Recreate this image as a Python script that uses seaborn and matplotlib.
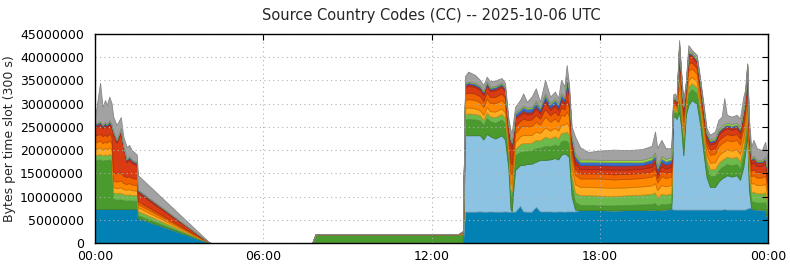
import numpy as np
import pandas as pd
import seaborn as sns
import matplotlib
matplotlib.use("Agg")
import matplotlib.pyplot as plt
from matplotlib.colors import to_rgb

# time of each 300 s slot sample (hours since 00:00 UTC)
hours = [0.00, 0.04, 0.18, 0.27, 0.36, 0.42, 0.51, 0.59, 0.65, 0.77, 0.92, 1.01, 1.13, 1.22, 1.31, 1.43, 1.49, 1.53, 4.10,
         7.75, 7.87, 12.95, 13.12,
         13.20, 13.31, 13.55, 13.73, 13.85, 13.97, 14.09, 14.27, 14.50, 14.62, 14.74, 14.82, 14.86, 14.92, 14.98,
         15.16, 15.27, 15.40, 15.57, 15.72, 15.87, 16.05, 16.23, 16.40, 16.52, 16.62, 16.74, 16.82, 16.90, 17.00, 17.12, 17.30,
         17.59, 18.00, 18.50, 19.00, 19.50, 19.85, 19.97, 20.05, 20.20, 20.35, 20.55,
         20.62, 20.68, 20.74, 20.83, 20.90, 20.98, 21.07, 21.16, 21.28, 21.46, 21.58, 21.69, 21.81, 21.93, 22.11, 22.23,
         22.35, 22.44, 22.53, 22.71, 22.88, 23.00, 23.12, 23.18, 23.26, 23.32, 23.40, 23.48, 23.60, 23.78, 23.90, 24.00]

# bytes per slot, in millions, one list per country code layer (bottom to top)
cc_1 = [7.3, 7.3, 7.3, 7.3, 7.3, 7.3, 7.3, 7.3, 7.3, 7.3, 7.3, 7.3, 7.3, 7.3, 7.3, 7.3, 7.3, 5.4, 0.0,
        0.0, 0.0, 0.0, 0.0,
        6.75, 6.75, 6.75, 6.8, 6.75, 6.75, 6.8, 6.75, 6.75, 6.8, 6.75, 6.75, 6.75, 6.75, 6.75,
        8.0, 6.8, 6.75, 6.75, 7.8, 6.8, 6.8, 6.8, 6.75, 6.8, 6.8, 6.75, 6.8, 6.8, 6.8, 6.8, 7.1,
        7.1, 7.1, 7.0, 7.1, 7.1, 7.2, 7.2, 7.1, 7.2, 7.2, 7.5,
        7.2, 7.2, 7.2, 7.2, 7.2, 7.2, 7.2, 7.2, 7.2, 7.2, 7.2, 7.2, 7.2, 7.2, 7.2, 7.2,
        7.2, 7.3, 7.2, 7.2, 7.2, 7.2, 7.2, 7.2, 7.4, 7.6, 7.5, 7.3, 7.2, 7.2, 7.2, 4.3]
cc_2 = [0.0, 0.0, 0.0, 0.0, 0.0, 0.0, 0.0, 0.0, 0.0, 0.0, 0.0, 0.0, 0.0, 0.0, 0.0, 0.0, 0.0, 0.0, 0.0,
        0.0, 0.0, 0.0, 0.0,
        16.45, 16.45, 16.45, 16.4, 15.55, 16.75, 16.2, 15.75, 16.45, 15.5, 9.5, 0.6, 0.1, 5.0, 8.95,
        8.8, 10.0, 10.25, 10.35, 9.7, 11.1, 11.1, 11.2, 11.55, 11.2, 12.2, 12.55, 12.2, 11.7, 3.2, 0.4, 0.0,
        0.0, 0.0, 0.0, 0.0, 0.0, 0.0, 0.0, 0.0, 0.0, 0.0, 0.0,
        19.9, 20.1, 19.5, 21.0, 18.0, 11.7, 20.4, 22.5, 23.6, 22.8, 18.3, 12.7, 7.0, 4.9, 4.9, 6.0,
        6.7, 6.9, 7.4, 7.1, 7.4, 6.4, 9.2, 12.0, 16.0, 4.0, 0.0, 0.0, 0.0, 0.0, 0.0, 0.0]
cc_3 = [10.6, 10.5, 10.7, 10.4, 10.6, 10.5, 10.7, 10.4, 2.2, 2.0, 2.1, 1.9, 1.8, 1.9, 1.8, 1.8, 1.8, 0.6, 0.0,
        0.0, 1.9, 1.9, 1.9,
        3.4, 3.5, 3.4, 3.2, 3.1, 3.4, 3.2, 3.4, 3.4, 3.4, 2.8, 3.0, 3.0, 3.0, 3.2,
        2.8, 2.9, 2.8, 2.8, 2.9, 2.6, 3.0, 2.8, 2.9, 2.8, 2.9, 2.8, 3.0, 2.9, 2.6, 1.6, 1.1,
        1.1, 1.0, 1.1, 1.1, 1.2, 1.2, 1.4, 0.9, 1.2, 1.1, 1.1,
        0.9, 0.9, 0.9, 2.5, 2.2, 2.5, 1.5, 2.5, 2.3, 2.2, 2.2, 2.2, 2.2, 2.3, 2.3, 2.4,
        2.4, 2.4, 2.4, 2.4, 2.4, 2.4, 2.6, 2.6, 2.8, 2.6, 1.5, 1.6, 1.5, 1.5, 1.6, 1.5]
cc_4 = [1.1, 1.1, 1.2, 1.1, 1.2, 1.1, 1.2, 1.1, 1.4, 1.4, 1.4, 1.3, 1.3, 1.3, 1.2, 1.2, 1.2, 0.9, 0.0,
        0.0, 0.0, 0.0, 0.0,
        1.2, 1.2, 1.2, 1.1, 1.1, 1.2, 1.1, 1.2, 1.2, 1.2, 1.0, 1.3, 1.3, 1.3, 1.4,
        1.7, 1.8, 1.7, 1.7, 1.8, 1.6, 2.0, 1.7, 1.8, 1.7, 1.8, 1.7, 2.0, 1.8, 1.9, 2.0, 2.1,
        2.1, 2.1, 2.0, 2.1, 2.1, 2.2, 2.3, 1.8, 2.2, 2.1, 2.1,
        0.6, 0.6, 0.6, 1.5, 1.4, 1.4, 0.9, 1.4, 1.3, 1.3, 1.3, 1.4, 1.4, 1.5, 1.5, 1.6,
        1.6, 1.6, 1.6, 1.6, 1.6, 1.6, 1.7, 1.7, 1.8, 1.9, 2.0, 2.1, 2.0, 2.0, 2.1, 2.0]
cc_5 = [1.4, 1.4, 1.4, 1.3, 1.4, 1.3, 1.4, 1.3, 1.2, 1.1, 1.2, 1.1, 1.1, 1.1, 1.1, 1.0, 1.0, 0.8, 0.0,
        0.0, 0.0, 0.0, 0.0,
        1.2, 1.3, 1.2, 1.1, 1.1, 1.2, 1.1, 1.2, 1.2, 1.2, 1.0, 1.4, 1.4, 1.4, 1.4,
        1.7, 1.8, 1.7, 1.7, 1.8, 1.6, 2.0, 1.7, 1.8, 1.7, 1.8, 1.7, 2.0, 1.9, 1.9, 1.9, 1.8,
        1.8, 1.8, 1.8, 1.7, 1.8, 1.8, 2.0, 1.6, 1.9, 1.8, 1.8,
        0.5, 0.5, 0.5, 1.5, 1.4, 1.5, 0.9, 1.5, 1.4, 1.3, 1.3, 1.3, 1.3, 1.4, 1.5, 1.6,
        1.6, 1.6, 1.6, 1.6, 1.6, 1.6, 1.7, 1.7, 1.8, 1.9, 1.8, 1.9, 1.8, 1.8, 1.9, 1.8]
cc_6 = [1.4, 1.4, 1.5, 1.4, 1.4, 1.4, 1.5, 1.4, 1.4, 1.4, 1.5, 1.3, 1.2, 1.3, 1.2, 1.2, 1.2, 0.7, 0.0,
        0.0, 0.0, 0.0, 0.4,
        1.8, 1.8, 1.8, 1.7, 1.7, 1.8, 1.7, 1.8, 1.8, 1.8, 1.5, 2.2, 2.2, 2.0, 1.9,
        1.9, 2.0, 1.9, 1.9, 2.1, 1.8, 2.3, 1.9, 2.0, 1.9, 2.1, 1.9, 2.4, 2.2, 2.1, 2.0, 1.8,
        1.8, 1.9, 1.8, 1.8, 1.8, 1.9, 2.0, 1.6, 1.9, 1.8, 1.8,
        0.6, 0.6, 0.6, 2.5, 2.0, 1.8, 1.2, 2.0, 1.8, 1.7, 1.6, 1.6, 1.6, 1.7, 1.8, 2.0,
        2.0, 2.0, 2.0, 2.0, 2.0, 2.0, 2.1, 2.1, 2.3, 2.1, 1.6, 1.7, 1.6, 1.6, 1.7, 1.6]
cc_7 = [1.5, 1.5, 1.4, 1.5, 1.5, 1.4, 1.5, 1.4, 1.8, 1.8, 1.8, 1.6, 1.5, 1.5, 1.4, 1.4, 1.4, 0.6, 0.0,
        0.0, 0.0, 0.0, 0.0,
        1.4, 1.4, 1.4, 1.3, 1.3, 1.4, 1.3, 1.4, 1.4, 1.4, 1.2, 2.2, 2.2, 1.8, 1.6,
        1.4, 1.5, 1.4, 1.4, 1.5, 1.3, 1.7, 1.4, 1.5, 1.4, 1.6, 1.4, 2.4, 2.0, 1.6, 1.3, 1.1,
        1.1, 1.1, 1.1, 1.1, 1.1, 1.1, 1.3, 1.0, 1.2, 1.1, 1.1,
        0.4, 0.4, 0.4, 2.5, 2.0, 1.3, 0.8, 1.5, 1.3, 1.2, 1.1, 1.1, 1.1, 1.1, 1.2, 1.3,
        1.3, 1.3, 1.3, 1.3, 1.3, 1.3, 1.4, 1.4, 2.0, 1.6, 1.2, 1.3, 1.2, 1.2, 1.3, 1.2]
cc_8 = [1.8, 1.8, 1.9, 1.7, 1.9, 1.8, 2.0, 1.9, 8.0, 6.6, 8.6, 5.8, 3.2, 3.6, 3.3, 3.0, 3.0, 1.8, 0.0,
        0.0, 0.0, 0.0, 0.2,
        1.4, 1.5, 1.4, 1.4, 1.3, 1.4, 1.3, 1.4, 1.4, 1.4, 1.3, 3.5, 3.4, 2.0, 1.6,
        1.2, 1.3, 1.2, 1.2, 1.4, 1.1, 1.6, 1.2, 1.3, 1.2, 1.5, 1.2, 3.0, 2.5, 1.5, 1.1, 0.9,
        0.9, 0.9, 1.0, 0.9, 0.9, 1.0, 1.2, 0.8, 1.0, 0.9, 1.0,
        0.6, 0.6, 0.6, 3.0, 1.2, 1.3, 0.8, 1.8, 1.3, 1.1, 1.0, 1.1, 1.1, 1.1, 1.1, 1.2,
        1.2, 1.3, 1.2, 1.2, 1.2, 1.2, 1.7, 1.7, 3.0, 2.0, 1.4, 1.5, 1.3, 1.3, 1.4, 1.3]
cc_9 = [0.4, 0.4, 0.4, 0.4, 0.4, 0.4, 0.4, 0.4, 0.5, 0.4, 0.5, 0.4, 0.4, 0.4, 0.4, 0.4, 0.4, 0.5, 0.0,
        0.0, 0.0, 0.0, 0.0,
        0.4, 0.4, 0.4, 0.4, 0.4, 0.4, 0.4, 0.4, 0.4, 0.4, 0.4, 1.0, 1.0, 0.6, 0.5,
        0.5, 0.5, 0.5, 0.5, 0.5, 0.5, 0.6, 0.5, 0.5, 0.5, 0.5, 0.5, 0.8, 0.6, 0.6, 0.9, 0.9,
        0.9, 0.9, 0.9, 0.9, 0.8, 0.9, 0.9, 0.7, 0.9, 0.9, 0.9,
        0.2, 0.2, 0.2, 0.6, 0.5, 0.4, 0.3, 0.4, 0.4, 0.4, 0.4, 0.4, 0.4, 0.5, 0.5, 0.5,
        0.5, 0.5, 0.5, 0.5, 0.5, 0.5, 0.6, 0.6, 0.7, 0.8, 0.9, 0.9, 0.8, 0.8, 0.9, 0.8]
cc_10 = [0.3, 0.3, 0.3, 0.3, 0.3, 0.3, 0.3, 0.3, 0.2, 0.2, 0.2, 0.2, 0.2, 0.2, 0.2, 0.2, 0.2, 0.2, 0.0,
         0.0, 0.0, 0.0, 0.0,
         0.3, 0.3, 0.3, 0.3, 0.3, 0.3, 0.3, 0.3, 0.3, 0.3, 0.3, 0.3, 0.3, 0.4, 0.5,
         0.7, 0.7, 0.7, 0.7, 0.8, 0.6, 0.8, 0.7, 0.7, 0.7, 0.8, 0.7, 0.9, 0.7, 0.6, 0.8, 0.7,
         0.7, 0.7, 0.7, 0.7, 0.6, 0.7, 0.7, 0.6, 0.7, 0.7, 0.7,
         0.1, 0.1, 0.1, 0.3, 0.3, 0.3, 0.2, 0.3, 0.2, 0.2, 0.2, 0.3, 0.3, 0.3, 0.3, 0.3,
         0.3, 0.3, 0.3, 0.3, 0.3, 0.3, 0.3, 0.3, 0.3, 0.3, 0.2, 0.2, 0.2, 0.2, 0.2, 0.2]
cc_11 = [0.1, 0.1, 0.1, 0.1, 0.1, 0.1, 0.1, 0.1, 0.1, 0.1, 0.1, 0.1, 0.1, 0.1, 0.1, 0.1, 0.1, 0.0, 0.0,
         0.0, 0.0, 0.0, 0.0,
         0.2, 0.2, 0.2, 0.2, 0.2, 0.2, 0.2, 0.2, 0.2, 0.2, 0.2, 0.2, 0.2, 0.2, 0.2,
         0.3, 0.3, 0.3, 0.3, 0.3, 0.3, 0.3, 0.3, 0.3, 0.3, 0.3, 0.3, 0.3, 0.3, 0.3, 0.4, 0.5,
         0.5, 0.4, 0.5, 0.5, 0.5, 0.5, 0.5, 0.4, 0.5, 0.5, 0.5,
         0.1, 0.1, 0.1, 0.3, 0.3, 0.2, 0.2, 0.3, 0.3, 0.3, 0.3, 0.3, 0.3, 0.3, 0.3, 0.4,
         0.4, 0.4, 0.4, 0.4, 0.4, 0.4, 0.4, 0.4, 0.4, 0.4, 0.3, 0.3, 0.3, 0.3, 0.3, 0.3]
cc_12 = [1.6, 2.8, 8.3, 3.8, 4.7, 4.1, 5.1, 4.5, 3.1, 3.1, 2.4, 1.9, 2.6, 2.4, 2.0, 1.8, 1.4, 3.1, 0.0,
         0.0, 0.0, 0.0, 0.0,
         1.5, 2.1, 1.7, 1.2, 1.2, 1.0, 1.2, 1.2, 1.0, 0.9, 1.0, 1.8, 1.9, 2.0, 1.3,
         1.8, 2.6, 1.2, 2.2, 2.7, 1.1, 2.9, 1.3, 1.5, 1.0, 2.8, 2.2, 2.5, 1.0, 1.9, 3.7, 2.6,
         1.6, 2.0, 2.2, 2.1, 2.3, 2.4, 4.5, 4.0, 3.5, 2.3, 1.9,
         0.9, 0.9, 0.5, 0.8, 0.8, 0.8, 0.3, 1.2, 0.5, 0.8, 0.6, 0.8, 0.8, 1.0, 1.4, 2.0,
         2.0, 5.6, 1.7, 1.6, 1.7, 1.9, 2.6, 1.2, 0.2, 1.6, 2.3, 3.4, 2.5, 2.1, 3.2, 2.1]

layers = [cc_1, cc_2, cc_3, cc_4, cc_5, cc_6, cc_7, cc_8, cc_9, cc_10, cc_11, cc_12]
layer_colors = ["#0281b4", "#8cc3e3", "#4b9a2e", "#6cb94c", "#ffac20", "#ff8800",
                "#f06200", "#d93c12", "#c3301e", "#3b6dcc", "#9bd93c", "#a2a2a2"]

xtick_pos = [0, 6, 12, 18, 24]
xtick_labels = ["00:00", "06:00", "12:00", "18:00", "00:00"]
ytick_vals = [0, 5000000, 10000000, 15000000, 20000000, 25000000, 30000000, 35000000, 40000000, 45000000]

sns.set_theme(style="white")
plt.rcParams["font.family"] = ["DejaVu Sans"]

fig = plt.figure(figsize=(7.9, 2.67), dpi=100)
ax = fig.add_axes([95 / 790, 1 - 243 / 267, (768 - 95) / 790, (243 - 34) / 267])

df = pd.DataFrame({"t": hours})
for i, vals in enumerate(layers):
    df[f"cc{i+1}"] = np.array(vals) * 1e6

ys = [df[f"cc{i+1}"].values for i in range(len(layers))]
polys = ax.stackplot(df["t"].values, *ys, colors=layer_colors)
for p, c in zip(polys, layer_colors):
    r, g, b = to_rgb(c)
    p.set_edgecolor((r * 0.82, g * 0.82, b * 0.82))
    p.set_linewidth(0.6)

ax.set_xlim(0, 24)
ax.set_ylim(0, 45000000)
ax.set_xticks(xtick_pos)
ax.set_xticklabels(xtick_labels)
ax.set_yticks(ytick_vals)
ax.set_yticklabels([str(v) for v in ytick_vals])
ax.tick_params(axis="both", labelsize=9, colors="black", length=4, width=0.8,
               direction="in", top=True, right=True)
ax.tick_params(axis="y", pad=8)
ax.tick_params(axis="x", pad=5)
ax.grid(True, color="#b0b0b0", linestyle=(0, (1, 3)), linewidth=0.8)
ax.set_axisbelow(False)
for s in ax.spines.values():
    s.set_color("black")
    s.set_linewidth(1.0)
    s.set_zorder(5)

ax.set_ylabel("Bytes per time slot (300 s)", fontsize=9, labelpad=3)
ax.set_title("Source Country Codes (CC) -- 2025-10-06 UTC", fontsize=10.5, pad=10)

fig.savefig("out.png", dpi=100)
